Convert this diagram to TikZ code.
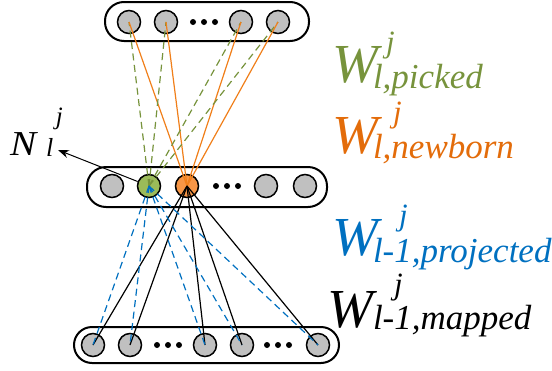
\documentclass[tikz,border=0pt]{standalone}
\usepackage{fontspec}
\setmainfont{Liberation Serif}
\usetikzlibrary{arrows.meta}
\definecolor{gfill}{HTML}{9BBB59}
\definecolor{ofill}{HTML}{F79646}
\definecolor{gline}{HTML}{77933C}
\definecolor{oline}{HTML}{F07F1A}
\definecolor{bline}{HTML}{0070C0}
\definecolor{gtext}{HTML}{77933C}
\definecolor{otext}{HTML}{E36C0A}
\definecolor{btext}{HTML}{0070C0}
\definecolor{cfill}{HTML}{C0C0C0}
\tikzset{
  bar/.style={draw=black, line width=2pt, rounded corners=19pt, minimum height=#1, inner sep=0pt},
  neuron/.style={circle, draw=black, line width=1.5pt, fill=cfill, minimum size=23pt, inner sep=0pt},
  dotc/.style={circle, fill=black, minimum size=6pt, inner sep=0pt},
  lab/.style={anchor=base west, inner sep=0pt, outer sep=0pt, font=\itshape},
  big/.style={lab, font=\fontsize{55}{55}\selectfont\itshape},
  sub/.style={lab, font=\fontsize{35}{35}\selectfont\itshape},
  sup/.style={lab, font=\fontsize{31}{31}\selectfont\itshape},
  conn/.style={line width=1.2pt},
  dsh/.style={conn, dash pattern=on 7pt off 4.5pt},
}
\begin{document}
\begin{tikzpicture}[x=1pt,y=-1pt]
\useasboundingbox (0,0) rectangle (552,370);
% bars
\node[bar=39pt, minimum width=204pt] (topbar) at (207,21.5) {};
\node[bar=40pt, minimum width=240pt] (midbar) at (207,187) {};
\node[bar=36pt, minimum width=265pt, rounded corners=18pt] (botbar) at (206.5,345) {};
% top layer
\node[neuron] (t1) at (129,22) {};
\node[neuron] (t2) at (166,22) {};
\node[neuron] (t3) at (241,22) {};
\node[neuron] (t4) at (278,22) {};
\node[dotc] (td1) at (193,22) {};
\node[dotc] (td2) at (204,22) {};
\node[dotc] (td3) at (215,22) {};
% middle layer
\node[neuron] (m1) at (112,186) {};
\node[neuron, fill=gfill] (g) at (149,186) {};
\node[neuron, fill=ofill] (o) at (187,186) {};
\node[neuron] (m4) at (266,186) {};
\node[neuron] (m5) at (305,186) {};
\node[dotc] (md1) at (216,186) {};
\node[dotc] (md2) at (227,186) {};
\node[dotc] (md3) at (238,186) {};
% bottom layer
\node[neuron] (b1) at (93,345) {};
\node[neuron] (b2) at (130,345) {};
\node[neuron] (b3) at (205,345) {};
\node[neuron] (b4) at (242,345) {};
\node[neuron] (b5) at (318,345) {};
\node[dotc] (bd1) at (157,345) {};
\node[dotc] (bd2) at (168,345) {};
\node[dotc] (bd3) at (179,345) {};
\node[dotc] (bd4) at (267,345) {};
\node[dotc] (bd5) at (278,345) {};
\node[dotc] (bd6) at (289,345) {};
% connections
\foreach \t in {t1,t2,t3,t4}{
  \draw[dsh, gline] (g.center) -- (\t.center);
  \draw[conn, oline] (o.center) -- (\t.center);
}
\foreach \b in {b1,b2,b3,b4,b5}{
  \draw[conn, black] (o.center) -- (\b.center);
  \draw[dsh, bline] (g.center) -- (\b.center);
}
% N label arrow
\coordinate (ntip) at (58,150);
\draw[line width=1pt, -{Stealth[length=11pt,width=8pt]}] (g) -- (ntip);
\node[lab, font=\fontsize{35}{35}\selectfont\itshape] (nN) at (10,155) {\scalebox{1.12}[1]{N}};
\node[lab, font=\fontsize{26}{26}\selectfont\itshape] (nl) at (46,156) {l};
\node[lab, font=\fontsize{25}{25}\selectfont\itshape] (nj) at (56,124) {j};
% W labels
\node[big, text=gtext] (w1) at (332,82) {W};
\node[sub, text=gtext] (w1s) at (373,88) {l,picked};
\node[sup, text=gtext] (w1j) at (386,52) {j};
\node[big, text=otext] (w2) at (332,153) {W};
\node[sub, text=otext] (w2s) at (373,158) {l,newborn};
\node[sup, text=otext] (w2j) at (393,122) {j};
\node[big, text=btext] (w3) at (332,255) {W};
\node[sub, text=btext] (w3s) at (373,262) {l-1,projected};
\node[sup, text=btext] (w3j) at (399,225) {j};
\node[big, text=black] (w4) at (327,327) {W};
\node[sub, text=black] (w4s) at (373,329) {l-1,mapped};
\node[sup, text=black] (w4j) at (394,294) {j};
\end{tikzpicture}
\end{document}
